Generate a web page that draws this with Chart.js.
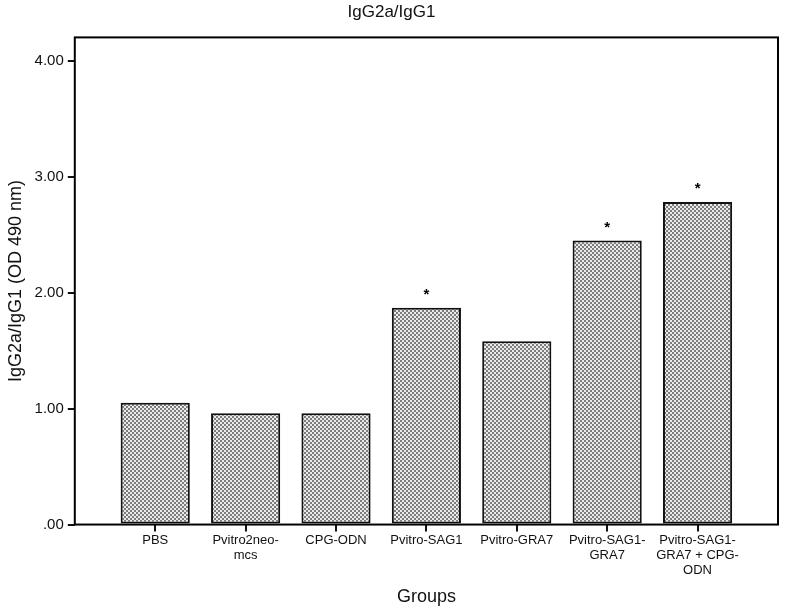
<!DOCTYPE html>
<html>
<head>
<meta charset="utf-8">
<script src="https://cdn.jsdelivr.net/npm/chart.js@4"></script>
<style>
  body { margin: 0; background: #fff; }
  #wrap { width: 786px; height: 612px; }
</style>
</head>
<body>
<div id="wrap"><canvas id="myChart" width="786" height="612"></canvas></div>
<script>
// data
var groups = [
    ["PBS"],
    ["Pvitro2neo-", "mcs"],
    ["CPG-ODN"],
    ["Pvitro-SAG1"],
    ["Pvitro-GRA7"],
    ["Pvitro-SAG1-", "GRA7"],
    ["Pvitro-SAG1-", "GRA7 + CPG-", "ODN"]
];
var ratios = [1.05, 0.96, 0.96, 1.87, 1.58, 2.45, 2.78];
var significant = [false, false, false, true, false, true, true];
var yTicks = [0, 1, 2, 3, 4];

var FONT = "'Liberation Sans', Arial, sans-serif";

// stippled grey fill like the original
function makeDots(){
    var c = document.createElement("canvas");
    c.width = 4; c.height = 4;
    var g = c.getContext("2d");
    g.fillStyle = "#ebebeb";
    g.fillRect(0, 0, 4, 4);
    g.fillStyle = "#7c7c7c";
    g.fillRect(0, 0, 2, 2);
    g.fillRect(2, 2, 2, 2);
    return g.createPattern(c, "repeat");
}

var frameAndStars = {
    id: "frameAndStars",
    afterDatasetsDraw: function(chart){
        var ctx = chart.ctx;
        var a = chart.chartArea;
        ctx.save();
        ctx.strokeStyle = "#000";
        ctx.lineWidth = 2;
        ctx.strokeRect(a.left, a.top, a.right - a.left, a.bottom - a.top);

        var meta = chart.getDatasetMeta(0);
        ctx.fillStyle = "#000";
        ctx.font = "bold 15px " + FONT;
        ctx.textAlign = "center";
        ctx.textBaseline = "middle";
        for(let i = 0; i < significant.length; i++){
            if(significant[i]){
                var bar = meta.data[i];
                ctx.fillText("*", bar.x, bar.y - 13);
            }
        }
        ctx.restore();
    }
};

var ctx = document.getElementById("myChart").getContext("2d");
var myChart = new Chart(ctx, {
    type: "bar",
    data: {
        datasets: [{
            label: "IgG2a/IgG1",
            data: ratios.map((v, i) => ({x: i, y: v})),
            backgroundColor: makeDots(),
            borderColor: "#111",
            borderWidth: 2,
            borderSkipped: false,
            categoryPercentage: 1,
            barPercentage: 0.765
        }]
    },
    options: {
        responsive: false,
        animation: false,
        layout: { padding: { top: 0, right: 8, bottom: 4, left: 5 } },
        plugins: {
            legend: { display: false },
            tooltip: { enabled: false },
            title: {
                display: true,
                text: "IgG2a/IgG1",
                color: "#111",
                font: { family: FONT, size: 17, weight: "normal" },
                padding: { top: 2, bottom: 15 }
            }
        },
        scales: {
            x: {
                type: "linear",
                min: -0.89,
                max: 6.89,
                offset: false,
                grid: { offset: false, drawOnChartArea: false, color: "#111", lineWidth: 2, tickLength: 7 },
                border: { display: false },
                ticks: {
                    stepSize: 1,
                    includeBounds: false,
                    autoSkip: false,
                    maxRotation: 0,
                    color: "#111",
                    padding: 1,
                    font: { family: FONT, size: 13, lineHeight: 1.15 },
                    callback: function(value){ return groups[value]; }
                },
                title: {
                    display: true,
                    text: "Groups",
                    color: "#111",
                    font: { family: FONT, size: 18 },
                    padding: { top: 8, bottom: 0 }
                }
            },
            y: {
                min: 0,
                max: 4.2,
                afterBuildTicks: function(scale){
                    scale.ticks = yTicks.map(v => ({value: v}));
                },
                grid: { drawOnChartArea: false, color: "#111", lineWidth: 2, tickLength: 7 },
                border: { display: false },
                ticks: {
                    color: "#111",
                    padding: 4,
                    font: { family: FONT, size: 15 },
                    callback: function(value){
                        return value === 0 ? ".00" : value.toFixed(2);
                    }
                },
                title: {
                    display: true,
                    text: "IgG2a/IgG1 (OD 490 nm)",
                    color: "#111",
                    font: { family: FONT, size: 18 },
                    padding: { top: 0, bottom: 4 }
                }
            }
        }
    },
    plugins: [frameAndStars]
});
</script>
</body>
</html>
